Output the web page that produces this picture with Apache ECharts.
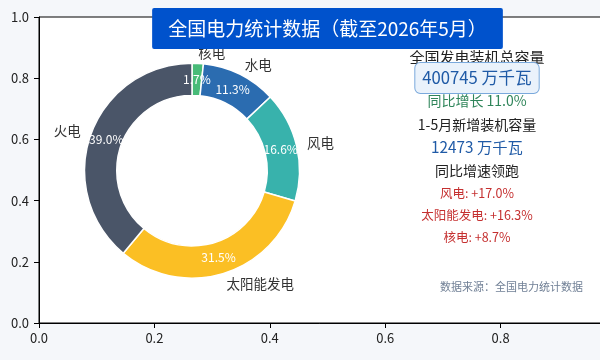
<!DOCTYPE html>
<html>
<head>
<meta charset="utf-8">
<script src="https://cdn.jsdelivr.net/npm/echarts@6/dist/echarts.min.js"></script>
<style>
  html, body { margin: 0; padding: 0; background: #f5f7fa; }
  #chart { width: 600px; height: 360px; }
</style>
</head>
<body>
<div id="chart"></div>
<script>
// 发电装机结构（%）
const sources = ['核电', '水电', '风电', '太阳能发电', '火电'];
const shares = [1.7, 11.3, 16.6, 31.5, 39.0];
const sliceColors = ['#48bb78', '#2b6cb0', '#38b2ac', '#fbbf24', '#4a5568'];

// 右侧摘要
const totalCapacity = 400745;
const totalGrowth = 11.0;
const newCapacity = 12473;
const leaders = ['风电', '太阳能发电', '核电'];
const leaderGrowth = [17.0, 16.3, 8.7];

const axisTicks = [0, 0.2, 0.4, 0.6, 0.8, 1.0];

const FONT = '"Noto Sans CJK SC", "Noto Sans", sans-serif';
const chart = echarts.init(document.getElementById('chart'));

const pieData = sources.map((name, i) => ({
  name: name,
  value: shares[i],
  itemStyle: { color: sliceColors[i] }
}));

const R = 107.5;
const pieCenter = ['32%', '47.4%'];

const textEl = (text, x, y, size, color, align) => ({
  type: 'text',
  x: x, y: y,
  silent: true,
  style: {
    text: text,
    font: size + 'px ' + FONT,
    fill: color,
    align: align || 'center',
    verticalAlign: 'middle',
    textAlign: align || 'center',
    textVerticalAlign: 'middle'
  }
});

const colX = 477;
const graphics = [
  {
    type: 'text', x: 327.5, y: 28.5, z: 100, silent: true,
    style: {
      text: '全国电力统计数据（截至2026年5月）',
      font: '19px ' + FONT,
      fill: '#ffffff',
      align: 'center', verticalAlign: 'middle',
      textAlign: 'center', textVerticalAlign: 'middle',
      backgroundColor: '#0052cc',
      padding: [10, 16, 10, 16],
      lineHeight: 21,
      borderRadius: 2
    }
  },
  textEl('全国发电装机总容量', colX, 57, 15, '#222222'),
  {
    type: 'text', x: colX, y: 78, silent: true,
    style: {
      text: totalCapacity + ' 万千瓦',
      font: '16.7px ' + FONT,
      fill: '#1f5aa6',
      align: 'center', verticalAlign: 'middle',
      textAlign: 'center', textVerticalAlign: 'middle',
      backgroundColor: '#eaf2fb',
      borderColor: '#7aa9dc',
      borderWidth: 1,
      borderRadius: 5,
      padding: [3, 7, 3, 7],
      lineHeight: 24
    }
  },
  textEl('同比增长 ' + totalGrowth.toFixed(1) + '%', colX, 101, 14, '#2f855a'),
  textEl('1-5月新增装机容量', colX, 125, 14, '#222222'),
  textEl(newCapacity + ' 万千瓦', colX, 147, 15.3, '#1f5aa6'),
  textEl('同比增速领跑', colX, 171, 14, '#222222')
];
leaders.forEach((name, i) => {
  graphics.push(textEl(name + ': +' + leaderGrowth[i].toFixed(1) + '%', colX, 193 + i * 22, 12.5, '#c53030'));
});
graphics.push(textEl('数据来源：全国电力统计数据', 583, 287, 11, '#718096', 'right'));

chart.setOption({
  backgroundColor: '#f5f7fa',
  animation: false,
  textStyle: { fontFamily: FONT },
  grid: {
    left: 39, right: -16, top: 17, bottom: 37,
    outerBoundsMode: 'none',
    containLabel: false,
    show: true, backgroundColor: '#ffffff', borderColor: '#000000', borderWidth: 1
  },
  xAxis: {
    type: 'value', min: axisTicks[0], max: axisTicks[axisTicks.length - 1], interval: 0.2,
    axisLine: { show: true, lineStyle: { color: '#000', width: 1 } },
    axisTick: { show: true, length: 5, lineStyle: { color: '#000' } },
    axisLabel: { color: '#222', fontSize: 13, margin: 9, formatter: v => v.toFixed(1) },
    splitLine: { show: false }
  },
  yAxis: {
    type: 'value', min: axisTicks[0], max: axisTicks[axisTicks.length - 1], interval: 0.2,
    axisLine: { show: true, lineStyle: { color: '#000', width: 1 } },
    axisTick: { show: true, length: 5, lineStyle: { color: '#000' } },
    axisLabel: { color: '#222', fontSize: 13, margin: 10, formatter: v => v.toFixed(1) },
    splitLine: { show: false }
  },
  series: [
    {
      type: 'pie',
      center: pieCenter,
      radius: [R * 0.7, R],
      startAngle: 90,
      clockwise: true,
      avoidLabelOverlap: false,
      silent: true,
      data: pieData,
      itemStyle: { borderColor: '#ffffff', borderWidth: 1.5 },
      label: {
        show: true, position: 'outside', alignTo: 'none',
        formatter: '{b}', color: '#333333', fontSize: 13.5,
        distanceToLabelLine: 0
      },
      labelLine: { show: false, length: R * 0.1, length2: 0 }
    },
    {
      type: 'pie',
      center: pieCenter,
      radius: [R * 0.64, R],
      startAngle: 90,
      clockwise: true,
      avoidLabelOverlap: false,
      silent: true,
      z: 3,
      data: sources.map((name, i) => ({ name: name, value: shares[i] })),
      itemStyle: { color: 'rgba(0,0,0,0)', borderWidth: 0 },
      label: {
        show: true, position: 'inside',
        formatter: p => p.value.toFixed(1) + '%',
        color: '#ffffff', fontSize: 12
      },
      labelLine: { show: false }
    }
  ],
  graphic: graphics
});
</script>
</body>
</html>
